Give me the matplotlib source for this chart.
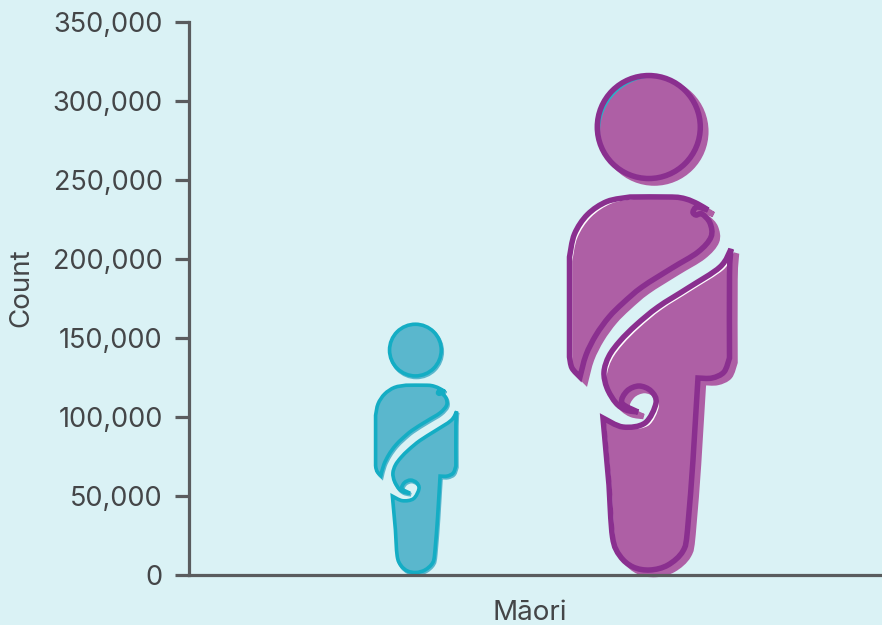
import matplotlib
matplotlib.use('Agg')
import matplotlib.pyplot as plt
import numpy as np
from matplotlib.patches import PathPatch
from matplotlib.path import Path
from matplotlib.transforms import Affine2D

# 2 groups drawn as figures whose height is the count
groups = ['Female', 'Male']
counts = [159500, 317700]
fill_colors = ['#5AB7CD', '#AE5FA5']
line_colors = ['#14ADC4', '#8A2F8F']
y_ticks = [0, 50000, 100000, 150000, 200000, 250000, 300000, 350000]
category = 'Māori'

BG = '#DAF2F5'
AXIS = '#5A5C5E'
TEXT = '#444648'
FONT = 'Inter'

FIG_W, FIG_H = 882, 625
AX_LEFT, AX_RIGHT, AX_TOP, AX_BOTTOM = 189, 882, 22, 575
Y_MAX = 350000
# same scale on both axes so the figures keep their shape
X_MAX = Y_MAX * (AX_RIGHT - AX_LEFT) / (AX_BOTTOM - AX_TOP)
centers = [(416 - AX_LEFT) / (AX_RIGHT - AX_LEFT) * X_MAX,
           (650 - AX_LEFT) / (AX_RIGHT - AX_LEFT) * X_MAX]

# outline of the figure, x from its centre, y up from the feet, height 502
GLYPH_H = 502
HEAD_C = (-1.2, 448)
HEAD_R = 51.5
UPPER = [
    [(58, 365), (48, 371), (36, 376), (22, 378), (-20, 378)],
    [(-20, 378), (-43, 373.5), (-62.5, 360.5), (-75.5, 341), (-80.5, 318)],
    [(-80.5, 318), (-80.5, 218)],
    [(-80.5, 218), (-78, 207), (-70, 198)],
    [(-70, 198), (-64, 220), (-54, 240), (-41, 258), (-27, 272), (-8, 288), (22, 307),
     (48, 323), (61, 338), (60, 352), (52, 361), (46, 360), (43, 363), (47, 368), (58, 365)],
]
LOWER = [
    [(81, 326), (79.5, 300), (79.5, 217)],
    [(79.5, 217), (74, 203), (62, 197), (48, 197)],
    [(48, 197), (43, 115)],
    [(43, 115), (37.5, 45), (33, 24), (18, 10), (0, 5), (-17, 8), (-30, 19), (-37.5, 38),
     (-41, 90)],
    [(-41, 90), (-47, 157)],
    [(-47, 157), (-27, 148), (-5, 152), (6, 172), (1, 184), (-11, 189), (-23, 184),
     (-28, 172), (-12, 163)],
    [(-12, 163), (-24, 165), (-34, 172), (-43, 187), (-46, 203), (-41, 219), (-30, 234),
     (-14, 250), (8, 268), (38, 287), (70, 308), (81, 326)],
]


def smooth(points):
    # Catmull-Rom through the points, as cubic bezier segments
    pts = np.array(points, dtype=float)
    padded = np.vstack([pts[0], pts, pts[-1]])
    verts = []
    for i in range(1, len(padded) - 2):
        p0, p1, p2, p3 = padded[i - 1:i + 3]
        verts += [p1 + (p2 - p0) / 6, p2 - (p3 - p1) / 6, p2]
    return verts


def closed_path(sections):
    verts = [sections[0][0]]
    codes = [Path.MOVETO]
    for section in sections:
        seg = smooth(section)
        verts += seg
        codes += [Path.CURVE4] * len(seg)
    verts.append(sections[0][0])
    codes.append(Path.CLOSEPOLY)
    return Path(verts, codes)


head = Path.circle(HEAD_C, HEAD_R)
upper = closed_path(UPPER)
lower = closed_path(LOWER)


def draw_figure(ax, center, count, fill_color, line_color):
    k = count / GLYPH_H
    scale = k / (Y_MAX / (AX_BOTTOM - AX_TOP))  # pixels per glyph unit
    lw = 5.5 * 0.72 * max(scale, 0.66)
    base = Affine2D().scale(k).translate(center, 0) + ax.transData
    # the colour layer sits a little off the outline, less on the small figure
    off_x, off_y = (5.5, -4.5) if scale > 0.7 else (2.0, -3.0)
    shifted = Affine2D().translate(off_x, off_y).scale(k).translate(center, 0) + ax.transData
    for shape in (head, upper, lower):
        under = '#25B5C9' if shape is head else 'white'
        ax.add_patch(PathPatch(shape, transform=base, facecolor=under, edgecolor='none',
                               zorder=2, clip_on=False))
        ax.add_patch(PathPatch(shape, transform=shifted, facecolor=fill_color,
                               edgecolor=fill_color, lw=lw, joinstyle='miter', zorder=3,
                               clip_on=False))
        ax.add_patch(PathPatch(shape, transform=base, facecolor='none', edgecolor=line_color,
                               lw=lw, joinstyle='miter', zorder=4, clip_on=False))


def main():
    fig = plt.figure(figsize=(FIG_W / 100, FIG_H / 100), dpi=100, facecolor=BG)
    ax = fig.add_axes([AX_LEFT / FIG_W, 1 - AX_BOTTOM / FIG_H,
                       (AX_RIGHT - AX_LEFT) / FIG_W, (AX_BOTTOM - AX_TOP) / FIG_H])
    ax.set_facecolor(BG)
    ax.set_xlim(0, X_MAX)
    ax.set_ylim(0, Y_MAX)

    for center, count, fill_color, line_color in zip(centers, counts, fill_colors, line_colors):
        draw_figure(ax, center, count, fill_color, line_color)

    for side in ('top', 'right'):
        ax.spines[side].set_visible(False)
    for side in ('left', 'bottom'):
        ax.spines[side].set_color(AXIS)
        ax.spines[side].set_linewidth(2.3)
        ax.spines[side].set_zorder(5)

    ax.set_yticks(y_ticks)
    ax.set_yticklabels([f'{v:,}' for v in y_ticks], fontfamily=FONT, fontsize=19.5, color=TEXT)
    ax.tick_params(axis='y', length=10, width=2.3, color=AXIS, pad=9)
    ax.set_xticks([X_MAX * 0.492])
    ax.set_xticklabels([category], fontfamily=FONT, fontsize=20, color=TEXT)
    ax.tick_params(axis='x', length=0, pad=18)
    ax.set_ylabel('Count', fontfamily=FONT, fontsize=20, color=TEXT)
    ax.yaxis.set_label_coords(-0.2225, 0.52)

    fig.savefig('out.png', dpi=100, facecolor=BG)
    plt.close(fig)


if __name__ == '__main__':
    main()
